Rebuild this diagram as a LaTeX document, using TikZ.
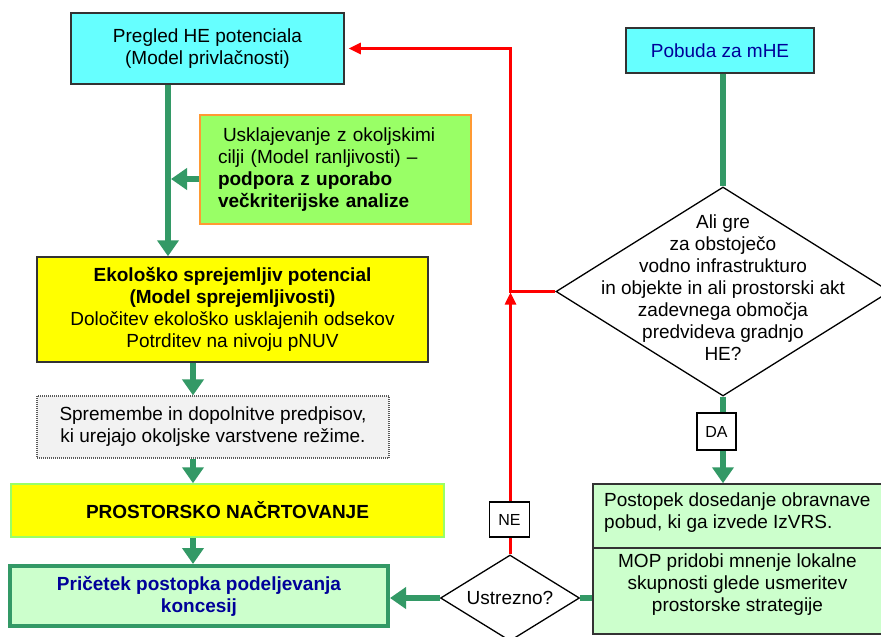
\documentclass[tikz,border=0pt]{standalone}
\usepackage{fontspec}
\setmainfont{Liberation Sans}
\usetikzlibrary{shapes.geometric,arrows.meta,calc}
\definecolor{cyanbox}{HTML}{66FFFF}
\definecolor{limebox}{HTML}{99FF66}
\definecolor{orangeb}{HTML}{FF9933}
\definecolor{yelbox}{HTML}{FFFF00}
\definecolor{greybox}{HTML}{F2F2F2}
\definecolor{mintbox}{HTML}{CCFFCC}
\definecolor{gr}{HTML}{339966}
\definecolor{navytext}{HTML}{000099}
\definecolor{bord}{HTML}{333333}
\definecolor{redl}{HTML}{FF0000}
\begin{document}
\begin{tikzpicture}[x=1pt,y=-1pt,
  font=\fontsize{19}{22}\selectfont,
  box/.style={draw=bord, line width=1.5pt, inner sep=0pt, align=center},
  lab/.style={draw=black, line width=1.2pt, fill=white, inner sep=0pt, font=\fontsize{16}{18}\selectfont},
  gline/.style={draw=gr, line width=6pt},
  garrow/.style={gline, -{Triangle[length=16pt,width=21pt]}},
  rline/.style={draw=redl, line width=2.5pt},
  rarrow/.style={rline, -{Triangle[length=12pt,width=11pt]}},
  dia/.style={diamond, draw=black, line width=1.3pt, fill=white, inner sep=0pt}
]
\clip (0,0) rectangle (881,637);
\fill[white] (0,0) rectangle (881,637);

% nodes
\node[box, fill=cyanbox, minimum width=273pt, minimum height=71pt] (he) at (207.5,48.5) {Pregled HE potenciala\\(Model privlačnosti)};
\node[box, fill=cyanbox, minimum width=188pt, minimum height=45pt, text=navytext] (pob) at (720,50.5) {Pobuda za mHE};
\node[box, draw=orangeb, line width=1.2pt, fill=limebox, minimum width=271pt, minimum height=109pt, align=left, text width=235pt, inner xsep=18pt] (usk) at (335.5,169.5)
  {\hspace*{5pt}Usklajevanje z okoljskimi\\cilji (Model ranljivosti) --\\\textbf{podpora z uporabo}\\\textbf{večkriterijske analize}};
\node[box, fill=yelbox, minimum width=391pt, minimum height=105pt] (eko) at (232.5,309.5)
  {\textbf{Ekološko sprejemljiv potencial}\\\textbf{(Model sprejemljivosti)}\\Določitev ekološko usklajenih odsekov\\Potrditev na nivoju pNUV};
\node[box, draw=black!65, line width=1.2pt, dash pattern=on 1pt off 1pt, fill=greybox, minimum width=352pt, minimum height=62pt] (spr) at (213,427)
  {Spremembe in dopolnitve predpisov,\\ki urejajo okoljske varstvene režime.};
\node[box, draw=limebox, fill=yelbox, minimum width=433pt, minimum height=53pt] (pros) at (227.5,510.5) {\textbf{PROSTORSKO NAČRTOVANJE}};
\node[box, draw=gr, line width=4pt, fill=mintbox, text=navytext, font=\fontsize{19}{22}\selectfont\bfseries, minimum width=378pt, minimum height=60pt] (pri) at (199,596)
  {Pričetek postopka podeljevanja\\koncesij};

\node[dia, minimum width=334pt, minimum height=209pt] (q) at (723,291.5) {};
\node[align=center, inner sep=0pt] (qt) at (723,288)
  {Ali gre\\za obstoječo\\vodno infrastrukturo\\in objekte in ali prostorski akt\\zadevnega območja\\predvideva gradnjo\\HE?};

\node[box, fill=mintbox, minimum width=290pt, minimum height=64pt] (post) at (738,516) {};
\node[align=left, inner sep=0pt, anchor=west] (postt) at (604,512.5)
  {Postopek dosedanje obravnave\\pobud, ki ga izvede IzVRS.};
\node[box, fill=mintbox, minimum width=290pt, minimum height=86pt] (mop) at (738,591) {};
\node[align=center, inner sep=0pt] (mopt) at (737.5,585)
  {MOP pridobi mnenje lokalne\\skupnosti glede usmeritev\\prostorske strategije};

\node[dia, aspect=1.6, minimum width=139pt, minimum height=86pt] (u) at (510,598) {Ustrezno?};

\node[lab, minimum width=40pt, minimum height=35pt] (ne) at (509.5,519.5) {NE};
\node[lab, minimum width=39pt, minimum height=37pt] (da) at (716.5,431.5) {DA};

\coordinate (j) at (510.5,291.5);
\coordinate (mline) at (168,179);
\coordinate (ax) at (193,0);

% red connectors
\draw[rarrow, shorten >=4pt] (q.west) -- (j) |- (he.east);
\draw[rline] (u.north -| j) -- (ne.south -| j);
\draw[rarrow, shorten >=1pt] (ne.north -| j) -- (j);

% green connectors
\draw[gline] (pob.south -| q.north) -- (q.north);
\draw[gline] (q.south) -- (q.south |- da.north);
\draw[garrow] (q.south |- da.south) -- (q.south |- post.north);
\draw[garrow] (he.south -| mline) -- (eko.north -| mline);
\draw[garrow] (usk.west |- mline) -- ([xshift=3pt]mline);
\draw[garrow] (eko.south -| ax) -- (spr.north -| ax);
\draw[garrow] (spr.south -| ax) -- (pros.north -| ax);
\draw[garrow] (pros.south -| ax) -- (pri.north -| ax);
\draw[garrow] (u.west) -- (u.west -| pri.east);
\draw[gline] (mop.west |- u.east) -- (u.east);
\end{tikzpicture}
\end{document}
